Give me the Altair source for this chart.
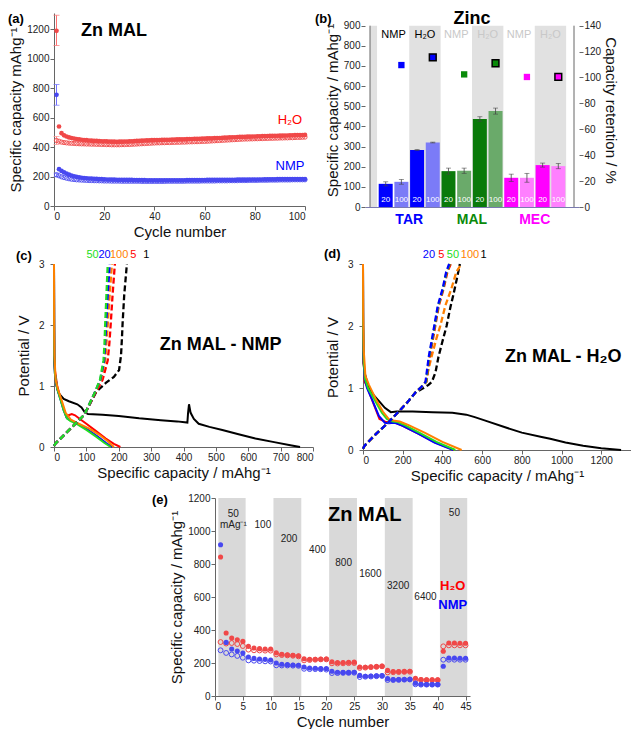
import altair as alt
import pandas as pd

FONT = "Liberation Sans"
RED = "#ff0000"
RED_OPEN = "#f04848"
BLUE = "#0000ff"
BLUE_OPEN = "#4848f0"
GREEN = "#22dd22"
ORANGE = "#ff8000"
BLACK = "#000000"
SUP = "mAhg\u207b\u00b9"

# ---------------- (a) cycling, Zn MAL ----------------
A_CYCLES = list(range(1, 101))
A_H2O_FILLED = [1190, 540, 495, 480, 472, 466, 462, 458, 455, 452,
                450, 448, 447, 445, 444, 443, 442, 441, 440, 440,
                439, 438, 437, 437, 436, 437, 437, 438, 438, 439,
                440, 441, 442, 443, 444, 445, 446, 446, 447, 447,
                448, 448, 449, 449, 450, 450, 451, 451, 452, 452,
                453, 453, 454, 455, 455, 456, 456, 457, 458, 458,
                459, 460, 460, 461, 462, 462, 463, 464, 465, 466,
                467, 467, 468, 469, 469, 470, 471, 471, 472, 472,
                473, 473, 474, 475, 475, 476, 476, 477, 477, 478,
                478, 479, 479, 480, 480, 481, 481, 482, 482, 483]
A_H2O_OPEN = [445, 440, 434, 431, 429, 427, 426, 425, 424, 423,
              422, 422, 421, 421, 420, 420, 419, 419, 418, 418,
              417, 417, 416, 416, 416, 416, 417, 417, 418, 418,
              419, 420, 421, 422, 423, 424, 425, 426, 427, 428,
              429, 429, 430, 430, 431, 431, 432, 432, 433, 433,
              434, 434, 435, 436, 436, 437, 437, 438, 439, 439,
              440, 441, 442, 443, 444, 445, 446, 447, 448, 449,
              450, 451, 452, 453, 454, 455, 455, 456, 456, 457,
              457, 458, 458, 459, 459, 460, 460, 461, 461, 462,
              462, 463, 463, 464, 464, 465, 466, 466, 467, 468]
A_NMP_FILLED = [755, 250, 238, 228, 220, 213, 207, 202, 198, 195,
                192, 190, 188, 187, 186, 185, 184, 183, 182, 181,
                180, 180, 179, 179, 178, 178, 178, 177, 177, 177,
                177, 176, 176, 176, 176, 176, 175, 175, 175, 175,
                175, 175, 175, 175, 175, 175, 175, 175, 175, 175,
                175, 175, 176, 176, 176, 176, 176, 176, 176, 176,
                177, 177, 177, 177, 177, 177, 178, 178, 178, 178,
                178, 178, 179, 179, 179, 179, 179, 180, 180, 180,
                180, 180, 180, 181, 181, 181, 181, 181, 182, 182,
                182, 182, 182, 182, 183, 183, 183, 183, 183, 183]
A_NMP_OPEN = [212, 205, 198, 193, 189, 185, 182, 180, 178, 177,
              176, 175, 174, 173, 173, 172, 172, 171, 171, 170,
              170, 170, 169, 169, 169, 169, 168, 168, 168, 168,
              168, 168, 168, 168, 167, 167, 167, 167, 167, 167,
              167, 167, 167, 167, 168, 168, 168, 168, 168, 168,
              168, 168, 169, 169, 169, 169, 169, 169, 170, 170,
              170, 170, 170, 170, 171, 171, 171, 171, 171, 172,
              172, 172, 172, 173, 173, 173, 173, 174, 174, 174,
              174, 175, 175, 175, 175, 176, 176, 176, 176, 177,
              177, 177, 177, 177, 178, 178, 178, 178, 178, 178]
A_ERR_X = [1, 1, 1, 1]
A_ERR_LO = [1090, 685, 418, 198]
A_ERR_HI = [1295, 825, 472, 224]
A_ERR_COL = ["#ff7070", "#7070ff", "#ff9090", "#9090ff"]

# ---------------- (b) Zinc bars ----------------
B_X = list(range(1, 13))
B_VAL = [115, 125, 283, 320, 178, 180, 437, 476, 145, 145, 208, 203]
B_ERR = [10, 12, 2, 2, 15, 13, 11, 15, 18, 22, 10, 13]
B_COL = ["#0000ff", "#7b7bf7", "#0000ff", "#7b7bf7",
         "#0a7a0a", "#6aaa6a", "#0a7a0a", "#6aaa6a",
         "#ff00ff", "#ff80ff", "#ff00ff", "#ff80ff"]
B_LAB = ["20", "100"] * 6
B_RET_X = [2, 4, 6, 8, 10, 12]
B_RET = [109.6, 115.6, 102.4, 111.0, 100.4, 100.4]
B_RET_COL = ["#0000ff", "#0000ff", "#0a8a0a", "#0a8a0a", "#ff00ff", "#ff00ff"]
B_RET_EDGE = [False, True, False, True, False, True]
B_BAND_X = [0.0, 2.5, 6.5, 10.5]
B_BAND_X2 = [0.45, 4.5, 8.5, 12.5]
B_HEAD_X = [1.5, 3.5, 5.5, 7.5, 9.5, 11.5]
B_HEAD_T = ["NMP", "H\u2082O"] * 3
B_HEAD_COL = ["#000000", "#000000", "#c8c8c8", "#c8c8c8", "#c8c8c8", "#c8c8c8"]
B_GROUP_X = [2.5, 6.5, 10.5]
B_GROUP_T = ["TAR", "MAL", "MEC"]
B_GROUP_COL = ["#0000ff", "#0a8a0a", "#ff00ff"]

# ---------------- (c) Zn MAL - NMP (capacity, potential) ----------------
C_DIS_1 = [(0, 3.0), (0.5, 2.0), (1, 1.4), (3, 1.2), (8, 1.0), (15, 0.88), (30, 0.79),
           (46, 0.75), (72, 0.70), (85, 0.65), (95, 0.57), (105, 0.54), (150, 0.53),
           (200, 0.51), (263, 0.47), (330, 0.44), (380, 0.42), (412, 0.40), (414, 0.55),
           (417, 0.70), (422, 0.56), (432, 0.46), (447, 0.38), (480, 0.33), (520, 0.28),
           (570, 0.21), (622, 0.14), (680, 0.08), (730, 0.03), (760, 0.0)]
C_DIS_5 = [(0, 3.0), (0.5, 2.0), (1, 1.5), (3, 1.25), (10, 1.0), (20, 0.8), (30, 0.62),
           (38, 0.5), (45, 0.52), (55, 0.54), (65, 0.52), (80, 0.46), (100, 0.38),
           (130, 0.26), (160, 0.14), (185, 0.05), (205, 0.0)]
C_DIS_20 = [(0, 3.0), (0.5, 2.0), (1, 1.5), (3, 1.2), (10, 0.95), (20, 0.78), (30, 0.6),
            (40, 0.47), (55, 0.43), (75, 0.38), (105, 0.28), (135, 0.17), (160, 0.07), (180, 0.0)]
C_DIS_50 = [(0, 3.0), (0.5, 2.0), (1, 1.5), (3, 1.2), (10, 0.95), (20, 0.78), (30, 0.6),
            (40, 0.47), (50, 0.43), (70, 0.38), (100, 0.28), (130, 0.17), (155, 0.07), (175, 0.0)]
C_DIS_100 = [(0, 3.0), (0.5, 2.0), (1.5, 1.5), (5, 1.1), (12, 0.95), (21, 0.81), (36, 0.56),
             (52, 0.45), (70, 0.40), (109, 0.30), (140, 0.20), (165, 0.10), (185, 0.0)]
C_CHG_1 = [(0, 0.02), (5, 0.06), (47, 0.28), (94, 0.53), (130, 0.9), (160, 1.05), (185, 1.15),
           (201, 1.26), (207, 1.5), (210, 1.8), (212, 2.04), (217, 2.5), (224, 2.93), (225, 3.0)]
C_CHG_5 = [(0, 0.02), (5, 0.06), (47, 0.28), (94, 0.53), (126, 0.87), (150, 1.1), (166, 1.42),
           (171, 1.7), (175, 2.0), (181, 2.5), (188, 3.0)]
C_CHG_20 = [(0, 0.02), (5, 0.06), (47, 0.28), (94, 0.53), (124, 0.87), (143, 1.1), (155, 1.42),
            (158, 1.7), (161, 2.0), (166, 2.5), (172, 3.0)]
C_CHG_50 = [(0, 0.02), (5, 0.06), (47, 0.28), (94, 0.53), (124, 0.87), (142, 1.1), (153, 1.42),
            (156, 1.7), (158, 2.0), (162, 2.5), (166, 3.0)]
C_CHG_100 = [(0, 0.02), (5, 0.06), (47, 0.28), (94, 0.53), (124, 0.87), (145, 1.1), (158, 1.42),
             (162, 1.7), (166, 2.0), (172, 2.5), (179, 3.0)]
C_TAG_T = ["50", "20", "100", "5", "1"]
C_TAG_X = [119, 156, 201, 245, 285]
C_TAG_COL = [GREEN, BLUE, ORANGE, RED, BLACK]

# ---------------- (d) Zn MAL - H2O ----------------
D_DIS_1 = [(0, 3.0), (0.5, 2.0), (2, 1.4), (8, 1.25), (20, 1.1), (33, 0.98), (55, 0.88),
           (83, 0.78), (110, 0.68), (140, 0.61), (170, 0.62), (250, 0.62), (350, 0.61),
           (450, 0.60), (520, 0.57), (563, 0.53), (620, 0.47), (712, 0.37), (800, 0.28),
           (900, 0.21), (943, 0.18), (1020, 0.12), (1109, 0.07), (1200, 0.03), (1300, 0.0)]
D_DIS_5 = [(0, 3.0), (1, 2.0), (3, 1.5), (8, 1.1), (17, 1.05), (50, 0.77), (83, 0.5),
           (116, 0.45), (140, 0.45), (165, 0.44), (200, 0.39), (281, 0.26), (364, 0.12), (460, 0.0)]
D_DIS_20 = [(0, 3.0), (1, 2.0), (3, 1.5), (8, 1.15), (20, 1.0), (50, 0.78), (80, 0.55),
            (110, 0.44), (130, 0.43), (160, 0.44), (200, 0.39), (280, 0.26), (360, 0.12), (455, 0.0)]
D_DIS_50 = [(0, 3.0), (1, 2.0), (3, 1.5), (10, 1.15), (25, 1.0), (60, 0.8), (95, 0.6),
            (120, 0.5), (150, 0.46), (175, 0.45), (210, 0.4), (290, 0.27), (370, 0.13), (465, 0.0)]
D_DIS_100 = [(0, 3.0), (1, 2.2), (4, 1.6), (12, 1.2), (30, 1.05), (65, 0.82), (100, 0.62),
             (130, 0.5), (160, 0.47), (185, 0.46), (230, 0.4), (310, 0.28), (400, 0.13), (497, 0.0)]
D_CHG_1 = [(0, 0.02), (8, 0.07), (66, 0.26), (120, 0.42), (174, 0.6), (224, 0.77), (265, 0.93),
           (300, 0.99), (330, 1.05), (347, 1.1), (365, 1.25), (380, 1.5), (400, 1.75),
           (421, 2.0), (440, 2.3), (455, 2.5), (472, 2.75), (488, 3.0)]
D_CHG_5 = [(0, 0.02), (8, 0.07), (66, 0.26), (120, 0.42), (174, 0.6), (224, 0.77), (265, 0.93),
           (295, 1.02), (320, 1.1), (336, 1.5), (353, 1.8), (364, 2.0), (382, 2.33),
           (406, 2.6), (425, 2.87), (442, 3.0)]
D_CHG_20 = [(0, 0.02), (8, 0.07), (66, 0.26), (120, 0.42), (174, 0.6), (224, 0.77), (265, 0.93),
            (295, 1.02), (315, 1.1), (331, 1.5), (348, 1.8), (359, 2.0), (377, 2.33),
            (401, 2.6), (419, 2.87), (434, 3.0)]
D_CHG_50 = [(0, 0.02), (8, 0.07), (66, 0.26), (120, 0.42), (174, 0.6), (224, 0.77), (265, 0.93),
            (295, 1.02), (318, 1.1), (333, 1.5), (350, 1.8), (361, 2.0), (379, 2.33),
            (403, 2.6), (421, 2.87), (437, 3.0)]
D_CHG_100 = [(0, 0.02), (8, 0.07), (66, 0.26), (120, 0.42), (174, 0.6), (224, 0.77), (265, 0.93),
             (295, 1.02), (315, 1.1), (345, 1.5), (370, 1.8), (389, 2.0), (415, 2.33),
             (445, 2.6), (470, 2.87), (495, 3.0)]
D_TAG_T = ["20", "5", "50", "100", "1"]
D_TAG_X = [332, 395, 453, 539, 607]
D_TAG_COL = [BLUE, RED, GREEN, ORANGE, BLACK]

# ---------------- (e) rate test ----------------
E_CYCLES = list(range(1, 46))
E_H2O_FILLED = [842, 382, 351, 341, 331, 301, 291, 287, 285, 285,
                262, 253, 249, 247, 244, 226, 222, 222, 223, 224,
                208, 203, 203, 204, 205, 176, 174, 176, 178, 180,
                155, 148, 148, 149, 150, 108, 100, 98, 98, 98,
                271, 321, 321, 320, 320]
E_H2O_OPEN = [327, 318, 321, 315, 303, 281, 277, 276, 275, 275,
              252, 248, 246, 244, 240, 216, 218, 220, 222, 222,
              198, 197, 198, 199, 200, 170, 172, 175, 177, 180,
              143, 144, 145, 146, 147, 99, 97, 96, 96, 96,
              301, 307, 307, 307, 307]
E_NMP_FILLED = [917, 325, 285, 273, 261, 236, 228, 224, 222, 218,
                200, 192, 190, 188, 186, 176, 170, 168, 167, 166,
                150, 144, 143, 143, 144, 125, 120, 121, 122, 123,
                105, 99, 99, 100, 101, 78, 71, 70, 70, 70,
                180, 230, 230, 229, 229]
E_NMP_OPEN = [277, 261, 252, 243, 232, 216, 214, 212, 210, 209,
              186, 185, 185, 184, 183, 165, 163, 163, 162, 160,
              139, 139, 140, 140, 141, 115, 117, 118, 120, 122,
              97, 97, 98, 99, 100, 71, 69, 69, 69, 69,
              220, 220, 220, 220, 220]
E_BAND_X = [0.6, 10.5, 20.5, 30.5, 40.4]
E_BAND_X2 = [5.5, 15.5, 25.5, 35.5, 45.3]
E_RATE_T = ["50", "mAg\u207b\u00b9", "100", "200", "400", "800", "1600", "3200", "6400", "50"]
E_RATE_X = [3.3, 3.3, 8.6, 13.3, 18.4, 23.1, 27.9, 32.9, 37.8, 43.0]
E_RATE_Y = [1105, 1036, 1034, 953, 887, 808, 737, 666, 600, 1109]


def df_xy(xs, ys, **extra):
    d = {"x": xs, "y": ys}
    d.update(extra)
    return pd.DataFrame(d)


def panel_label(text, dx, dy):
    return alt.Chart(pd.DataFrame({"t": [text]})).mark_text(
        align="left", baseline="top", fontSize=13, fontWeight="bold", font=FONT, color="black"
    ).encode(x=alt.value(dx), y=alt.value(dy), text="t:N")


def texts(X, Y, xs, ys, ts, cols, **kw):
    df = pd.DataFrame({"x": xs, "y": ys, "t": ts, "c": cols})
    return alt.Chart(df).mark_text(font=FONT, **kw).encode(
        x=X, y=Y, text="t:N", color=alt.Color("c:N", scale=None))


def curve(pts, color, dashed, X, Y):
    df = pd.DataFrame({"x": [p[0] for p in pts], "y": [p[1] for p in pts],
                       "i": list(range(len(pts)))})
    kw = dict(color=color, strokeWidth=2.0)
    if dashed:
        kw.update(strokeDash=[6, 3], strokeWidth=2.3)
    return alt.Chart(df).mark_line(**kw).encode(x=X, y=Y, order="i:Q")


# ================= panel (a) =================
AW, AH = 251, 193
XA = alt.X("x:Q", scale=alt.Scale(domain=[0, 100], nice=False, zero=False),
           axis=alt.Axis(values=list(range(0, 101, 20)), title="Cycle number"))
YA = alt.Y("y:Q", scale=alt.Scale(domain=[0, 1311], nice=False),
           axis=alt.Axis(values=list(range(0, 1201, 200)), title="Specific capacity " + SUP))
a_open = df_xy(A_CYCLES * 2, A_H2O_OPEN + A_NMP_OPEN, s=["H2O"] * 100 + ["NMP"] * 100)
a_fill = df_xy(A_CYCLES * 2, A_H2O_FILLED + A_NMP_FILLED, s=["H2O"] * 100 + ["NMP"] * 100)
a_err = pd.DataFrame({"x": A_ERR_X, "y": A_ERR_LO, "y2": A_ERR_HI, "c": A_ERR_COL})
a_err_caps = pd.DataFrame({"x": A_ERR_X * 2, "y": A_ERR_LO + A_ERR_HI, "c": A_ERR_COL * 2})

panel_a = alt.layer(
    alt.Chart(a_err).mark_rule(strokeWidth=1).encode(x=XA, y=YA, y2="y2:Q",
                                                     color=alt.Color("c:N", scale=None)),
    alt.Chart(a_err_caps).mark_tick(orient="horizontal", size=6, thickness=1).encode(
        x=XA, y=YA, color=alt.Color("c:N", scale=None)),
    alt.Chart(a_open).mark_point(shape="circle", filled=False, size=18, strokeWidth=0.9, opacity=1).encode(
        x=XA, y=YA, color=alt.Color("s:N", scale=alt.Scale(domain=["H2O", "NMP"], range=[RED_OPEN, BLUE_OPEN]), legend=None)),
    alt.Chart(a_fill).mark_circle(size=22, opacity=1).encode(
        x=XA, y=YA, color=alt.Color("s:N", scale=alt.Scale(domain=["H2O", "NMP"], range=[RED, BLUE]), legend=None)),
    texts(XA, YA, [10.8], [1188], ["Zn MAL"], ["black"], align="left", baseline="middle",
          fontSize=18, fontWeight="bold"),
    texts(XA, YA, [94, 94], [583, 270], ["H\u2082O", "NMP"], [RED, BLUE], align="center",
          baseline="middle", fontSize=13),
    panel_label("(a)", -46, 0),
).properties(width=AW, height=AH)

# ================= panel (b) =================
BW, BH = 214, 194
BTOP = 963
XB = alt.X("x:Q", scale=alt.Scale(domain=[0, 13], nice=False, zero=False),
           axis=alt.Axis(labels=False, ticks=False, title=None, domain=True, domainColor="#7a7ab0"))
YB = alt.Y("y:Q", scale=alt.Scale(domain=[0, BTOP], nice=False),
           axis=alt.Axis(values=list(range(0, 901, 100)), domain=False, labelOverlap=False,
                         title="Specific capacity / " + SUP))
YR = alt.Y("r:Q", scale=alt.Scale(domain=[0, 140 * BTOP / 900], nice=False),
           axis=alt.Axis(orient="right", values=list(range(0, 141, 20)), domain=False,
                         labelOverlap=False, title="Capacity retention / %", titlePadding=2))

b_bands = pd.DataFrame({"x": B_BAND_X, "x2": B_BAND_X2, "y": [0] * 4, "y2": [900] * 4})
b_bars = pd.DataFrame({"x": B_X, "y": B_VAL, "c": B_COL})
b_errs = pd.DataFrame({"x": B_X, "y": [v - e for v, e in zip(B_VAL, B_ERR)],
                       "y2": [v + e for v, e in zip(B_VAL, B_ERR)]})
b_labs = pd.DataFrame({"x": B_X, "y": [36] * 12, "t": B_LAB})
b_caps = pd.DataFrame({"x": B_X * 2, "y": [v - e for v, e in zip(B_VAL, B_ERR)] + [v + e for v, e in zip(B_VAL, B_ERR)]})
b_axes = pd.DataFrame({"x": [0, 13], "y": [0, 0], "y2": [900, 900]})
b_ret = pd.DataFrame({"x": B_RET_X, "r": B_RET, "c": B_RET_COL, "e": B_RET_EDGE})

left_b = alt.layer(
    alt.Chart(b_bands).mark_rect(color="#e1e1e1").encode(x=XB, x2="x2:Q", y=YB, y2="y2:Q"),
    alt.Chart(b_bars).mark_bar(size=14).encode(x=XB, y=YB, color=alt.Color("c:N", scale=None)),
    alt.Chart(b_errs).mark_rule(color="#444", strokeWidth=0.8).encode(x=XB, y=YB, y2="y2:Q"),
    alt.Chart(b_caps).mark_tick(orient="horizontal", size=5, thickness=0.8, color="#444").encode(x=XB, y=YB),
    alt.Chart(b_labs).mark_text(font=FONT, fontSize=8, color="white", baseline="middle").encode(
        x=XB, y=YB, text="t:N"),
    alt.Chart(b_axes).mark_rule(color="#666", strokeWidth=1).encode(x=XB, y=YB, y2="y2:Q"),
    texts(XB, YB, B_HEAD_X, [855] * 6, B_HEAD_T, B_HEAD_COL, align="center", baseline="middle", fontSize=11),
    alt.Chart(pd.DataFrame({"x": B_GROUP_X, "t": B_GROUP_T, "c": B_GROUP_COL})).mark_text(
        font=FONT, fontSize=14, fontWeight="bold", baseline="middle").encode(
        x=XB, y=alt.value(BH + 13), text="t:N", color=alt.Color("c:N", scale=None)),
    alt.Chart(pd.DataFrame({"x": [6.5], "t": ["Zinc"]})).mark_text(
        font=FONT, fontSize=18, fontWeight="bold", baseline="top", color="black").encode(
        x=XB, y=alt.value(-3), text="t:N"),
    panel_label("(b)", -50, 0),
)
right_b = alt.layer(
    alt.Chart(b_ret[~b_ret["e"]]).mark_square(size=40, opacity=1).encode(
        x=XB, y=YR, color=alt.Color("c:N", scale=None)),
    alt.Chart(b_ret[b_ret["e"]]).mark_square(size=46, opacity=1, stroke="black", strokeWidth=1.5).encode(
        x=XB, y=YR, fill=alt.Fill("c:N", scale=None)),
)
panel_b = alt.layer(left_b, right_b).resolve_scale(y="independent").properties(width=BW, height=BH)

# ================= panel (c) =================
CW, CH = 259, 183
XC = alt.X("x:Q", scale=alt.Scale(domain=[0, 800], nice=False),
           axis=alt.Axis(values=list(range(0, 801, 100)), title="Specific capacity / " + SUP))
YC = alt.Y("y:Q", scale=alt.Scale(domain=[0, 3], nice=False),
           axis=alt.Axis(values=[0, 1, 2, 3], title="Potential / V", labelPadding=6, titlePadding=7))
panel_c = alt.layer(
    curve(C_DIS_1, BLACK, False, XC, YC),
    curve(C_DIS_5, RED, False, XC, YC),
    curve(C_DIS_20, BLUE, False, XC, YC),
    curve(C_DIS_50, GREEN, False, XC, YC),
    curve(C_DIS_100, ORANGE, False, XC, YC),
    curve(C_CHG_1, BLACK, True, XC, YC),
    curve(C_CHG_5, RED, True, XC, YC),
    curve(C_CHG_100, ORANGE, True, XC, YC),
    curve(C_CHG_20, BLUE, True, XC, YC),
    curve(C_CHG_50, GREEN, True, XC, YC),
    texts(XC, YC, [327], [1.67], ["Zn MAL - NMP"], ["black"], align="left", baseline="middle",
          fontSize=18, fontWeight="bold"),
    texts(XC, YC, C_TAG_X, [3.15] * 5, C_TAG_T, C_TAG_COL, align="center", baseline="middle", fontSize=11),
    panel_label("(c)", -38, -14),
).properties(width=CW, height=CH)

# ================= panel (d) =================
DW, DH = 268, 186
XD = alt.X("x:Q", scale=alt.Scale(domain=[0, 1350], nice=False),
           axis=alt.Axis(values=list(range(0, 1201, 200)), title="Specific capacity / " + SUP))
YD = alt.Y("y:Q", scale=alt.Scale(domain=[0, 3], nice=False),
           axis=alt.Axis(values=[0, 1, 2, 3], title="Potential / V", labelPadding=6, titlePadding=7))
panel_d = alt.layer(
    curve(D_DIS_1, BLACK, False, XD, YD),
    curve(D_DIS_5, RED, False, XD, YD),
    curve(D_DIS_20, BLUE, False, XD, YD),
    curve(D_DIS_50, GREEN, False, XD, YD),
    curve(D_DIS_100, ORANGE, False, XD, YD),
    curve(D_CHG_1, BLACK, True, XD, YD),
    curve(D_CHG_100, ORANGE, True, XD, YD),
    curve(D_CHG_5, RED, True, XD, YD),
    curve(D_CHG_50, GREEN, True, XD, YD),
    curve(D_CHG_20, BLUE, True, XD, YD),
    texts(XD, YD, [715], [1.5], ["Zn MAL - H\u2082O"], ["black"], align="left", baseline="middle",
          fontSize=18, fontWeight="bold"),
    texts(XD, YD, D_TAG_X, [3.145] * 5, D_TAG_T, D_TAG_COL, align="center", baseline="middle", fontSize=11),
    panel_label("(d)", -39, -16),
).properties(width=DW, height=DH)

# ================= panel (e) =================
EW, EH = 255, 198
XE = alt.X("x:Q", scale=alt.Scale(domain=[0, 45.8], nice=False, zero=False),
           axis=alt.Axis(values=list(range(0, 46, 5)), title="Cycle number"))
YE = alt.Y("y:Q", scale=alt.Scale(domain=[0, 1200], nice=False),
           axis=alt.Axis(values=list(range(0, 1201, 200)), title="Specific capacity / " + SUP))
e_bands = pd.DataFrame({"x": E_BAND_X, "x2": E_BAND_X2, "y": [0] * 5, "y2": [1200] * 5})
e_open = df_xy(E_CYCLES * 2, E_H2O_OPEN + E_NMP_OPEN, s=["H2O"] * 45 + ["NMP"] * 45)
e_fill = df_xy(E_CYCLES * 2, E_H2O_FILLED + E_NMP_FILLED, s=["H2O"] * 45 + ["NMP"] * 45)
panel_e = alt.layer(
    alt.Chart(e_bands).mark_rect(color="#d9d9d9").encode(x=XE, x2="x2:Q", y=YE, y2="y2:Q"),
    alt.Chart(e_open).mark_point(shape="circle", filled=False, size=24, strokeWidth=1, opacity=1).encode(
        x=XE, y=YE, color=alt.Color("s:N", scale=alt.Scale(domain=["H2O", "NMP"], range=[RED_OPEN, BLUE_OPEN]), legend=None)),
    alt.Chart(e_fill).mark_circle(size=26, opacity=1).encode(
        x=XE, y=YE, color=alt.Color("s:N", scale=alt.Scale(domain=["H2O", "NMP"], range=[RED, BLUE]), legend=None)),
    texts(XE, YE, E_RATE_X, E_RATE_Y, E_RATE_T, ["#222"] * 10, align="center", baseline="middle", fontSize=10),
    texts(XE, YE, [26.9], [1095], ["Zn MAL"], ["black"], align="center", baseline="middle",
          fontSize=20, fontWeight="bold"),
    texts(XE, YE, [42.7, 42.7], [667, 551], ["H\u2082O", "NMP"], [RED, BLUE], align="center",
          baseline="middle", fontSize=13, fontWeight="bold"),
    panel_label("(e)", -63, -4),
).properties(width=EW, height=EH)

spacer = alt.Chart(pd.DataFrame({"v": [0]})).mark_point(opacity=0).encode(
    x=alt.value(0), y=alt.value(0)).properties(width=98, height=10)

row1 = alt.hconcat(panel_a, panel_b, spacing=6)
row2 = alt.hconcat(panel_c, panel_d, spacing=10)
row3 = alt.hconcat(spacer, panel_e, spacing=0)
top_rows = alt.vconcat(row1, row2, spacing=9)

chart = alt.vconcat(top_rows, row3, spacing=10).properties(
    padding={"left": 0, "top": 2, "right": 0, "bottom": 0}
).configure_view(stroke=None).configure_axis(
    labelFont=FONT, titleFont=FONT, labelFontSize=10, titleFontSize=15,
    titleFontWeight="normal", labelColor="#222", titleColor="#111", format="d",
    domainColor="#666", tickColor="#666", tickSize=4, labelPadding=1, titlePadding=3, grid=False
).configure_text(font=FONT)

chart.save("out.html", embed_options={"renderer": "svg", "actions": False})
